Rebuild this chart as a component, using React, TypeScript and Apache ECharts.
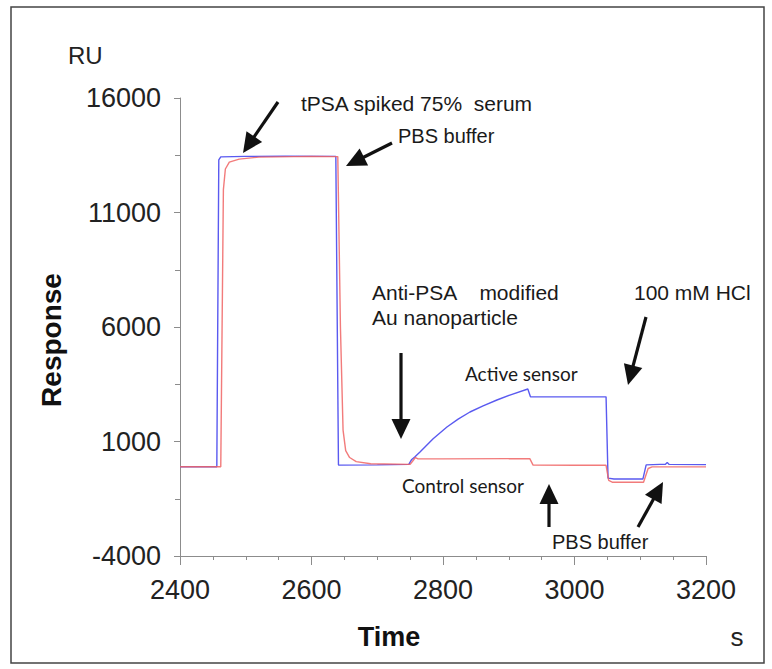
import React, { useEffect, useRef } from "react";
import * as echarts from "echarts";

// Active sensor (blue) : time in s, response in RU
const activeTime = [2400, 2456, 2459, 2462, 2500, 2560, 2637, 2641, 2700, 2748, 2752, 2757, 2765, 2785, 2806, 2823, 2841, 2861, 2882, 2905, 2929, 2933, 3000, 3048, 3051, 3060, 3104, 3109, 3130, 3138, 3141, 3144, 3200];
const activeResponse = [-100, -100, 13300, 13430, 13450, 13460, 13450, -30, -20, 0, 200, 320, 541, 1120, 1633, 1980, 2288, 2560, 2812, 3060, 3293, 2950, 2950, 2950, -600, -640, -640, -20, 0, 0, 80, 0, -10];

// Control sensor (red)
const controlTime = [2400, 2462, 2466, 2469, 2475, 2490, 2520, 2600, 2640, 2644, 2648, 2652, 2658, 2668, 2690, 2750, 2754, 2758, 2762, 2800, 2900, 2932, 2937, 3000, 3048, 3052, 3058, 3105, 3112, 3118, 3200];
const controlResponse = [-100, -100, 12000, 12900, 13200, 13330, 13420, 13450, 13440, 6000, 1500, 600, 300, 120, 30, 0, 150, 300, 240, 240, 250, 250, -30, -40, -40, -700, -780, -780, -180, -110, -110];

const yLabels = [-4000, 1000, 6000, 11000, 16000];
const xLabels = [2400, 2600, 2800, 3000, 3200];

const ARIAL = "Liberation Sans, Arial, sans-serif";
const HUMANIST = "Lato, Open Sans, sans-serif";

const annotations = [
  { text: "tPSA spiked 75%  serum", x: 301, y: 103, size: 21, font: ARIAL },
  { text: "PBS buffer", x: 398, y: 136, size: 20, font: ARIAL },
  { text: "Anti-PSA    modified", x: 372, y: 292, size: 21, font: ARIAL },
  { text: "Au nanoparticle", x: 372, y: 317, size: 21, font: ARIAL },
  { text: "100 mM HCl", x: 634, y: 292, size: 21, font: ARIAL },
  { text: "Active sensor", x: 465, y: 373, size: 19, font: HUMANIST },
  { text: "Control sensor", x: 402, y: 485, size: 19, font: HUMANIST },
  { text: "PBS buffer", x: 552, y: 542, size: 20, font: ARIAL },
];

const arrows = [
  { tail: [278, 102], tip: [243, 153] },
  { tail: [392, 143], tip: [346, 166] },
  { tail: [401, 353], tip: [401, 439] },
  { tail: [646, 317], tip: [628, 385] },
  { tail: [549, 527], tip: [549, 484] },
  { tail: [638, 527], tip: [663, 482] },
];

function arrowElements(a: { tail: number[]; tip: number[] }) {
  const [x1, y1] = a.tail;
  const [x2, y2] = a.tip;
  const len = Math.hypot(x2 - x1, y2 - y1);
  const dx = (x2 - x1) / len;
  const dy = (y2 - y1) / len;
  const headLen = 20;
  const half = 9.5;
  const bx = x2 - dx * headLen;
  const by = y2 - dy * headLen;
  const nx = -dy;
  const ny = dx;
  return [
    {
      type: "line",
      z: 50,
      shape: { x1, y1, x2: bx + dx * 2, y2: by + dy * 2 },
      style: { stroke: "#111", lineWidth: 3.2 },
    },
    {
      type: "polygon",
      z: 50,
      shape: {
        points: [
          [x2, y2],
          [bx + nx * half, by + ny * half],
          [bx - nx * half, by - ny * half],
        ],
      },
      style: { fill: "#111" },
    },
  ];
}

export default function App() {
  const ref = useRef<HTMLDivElement>(null);

  useEffect(() => {
    if (!ref.current) return;
    const chart = echarts.init(ref.current, undefined, { renderer: "svg" });
    const axisColor = "#8c8c8c";

    const graphic: any[] = [
      {
        type: "rect",
        z: 0,
        shape: { x: 11, y: 7, width: 753, height: 656 },
        style: { fill: "none", stroke: "#444", lineWidth: 1.5 },
      },
      {
        type: "text",
        z: 50,
        x: 68,
        y: 55,
        style: { text: "RU", fontSize: 24, fontFamily: ARIAL, fill: "#222", textVerticalAlign: "middle" },
      },
      {
        type: "text",
        z: 50,
        x: 389,
        y: 637,
        style: {
          text: "Time",
          fontSize: 27,
          fontWeight: "bold",
          fontFamily: ARIAL,
          fill: "#111",
          textAlign: "center",
          textVerticalAlign: "middle",
        },
      },
      {
        type: "text",
        z: 50,
        x: 737,
        y: 637,
        style: {
          text: "s",
          fontSize: 26,
          fontFamily: ARIAL,
          fill: "#222",
          textAlign: "center",
          textVerticalAlign: "middle",
        },
      },
      {
        type: "text",
        z: 50,
        x: 51,
        y: 340,
        rotation: Math.PI / 2,
        style: {
          text: "Response",
          fontSize: 28,
          fontWeight: "bold",
          fontFamily: ARIAL,
          fill: "#111",
          textAlign: "center",
          textVerticalAlign: "middle",
        },
      },
    ];
    annotations.forEach((a) => {
      graphic.push({
        type: "text",
        z: 50,
        x: a.x,
        y: a.y,
        style: {
          text: a.text,
          fontSize: a.size,
          fontFamily: a.font,
          fill: "#1a1a1a",
          textVerticalAlign: "middle",
        },
      });
    });
    arrows.forEach((a) => graphic.push(...arrowElements(a)));

    chart.setOption({
      animation: false,
      backgroundColor: "#fff",
      grid: { left: 180, top: 98, right: 66, bottom: 113, containLabel: false },
      xAxis: {
        type: "value",
        min: 2400,
        max: 3200,
        interval: 200,
        splitLine: { show: false },
        axisLine: { show: true, onZero: false, lineStyle: { color: axisColor, width: 1 } },
        axisTick: { show: true, length: 9, lineStyle: { color: axisColor } },
        minorTick: { show: true, splitNumber: 4, length: 4, lineStyle: { color: axisColor } },
        axisLabel: {
          margin: 20,
          fontSize: 27,
          fontFamily: ARIAL,
          color: "#222",
          formatter: (v: number) => (xLabels.includes(v) ? String(v) : ""),
        },
      },
      yAxis: {
        type: "value",
        min: -4000,
        max: 16000,
        interval: 5000,
        splitLine: { show: false },
        axisLine: { show: true, onZero: false, lineStyle: { color: axisColor, width: 1 } },
        axisTick: { show: true, length: 6, lineStyle: { color: axisColor } },
        minorTick: { show: true, splitNumber: 2, length: 5, lineStyle: { color: axisColor } },
        axisLabel: {
          margin: 19,
          fontSize: 27,
          fontFamily: ARIAL,
          color: "#222",
          formatter: (v: number) => (yLabels.includes(v) ? String(v) : ""),
        },
      },
      series: [
        {
          name: "Active sensor",
          type: "line",
          showSymbol: false,
          data: activeTime.map((t, i) => [t, activeResponse[i]]),
          lineStyle: { color: "#5a5af0", width: 1.4 },
          itemStyle: { color: "#5a5af0" },
          z: 2,
        },
        {
          name: "Control sensor",
          type: "line",
          showSymbol: false,
          data: controlTime.map((t, i) => [t, controlResponse[i]]),
          lineStyle: { color: "#f06464", width: 1.4, opacity: 0.85 },
          itemStyle: { color: "#f06464" },
          z: 3,
        },
      ],
      graphic,
    });
    return () => chart.dispose();
  }, []);

  return (
    <div
      ref={ref}
      style={{ position: "absolute", left: 0, top: 0, width: 772, height: 669, background: "#fff" }}
    />
  );
}
